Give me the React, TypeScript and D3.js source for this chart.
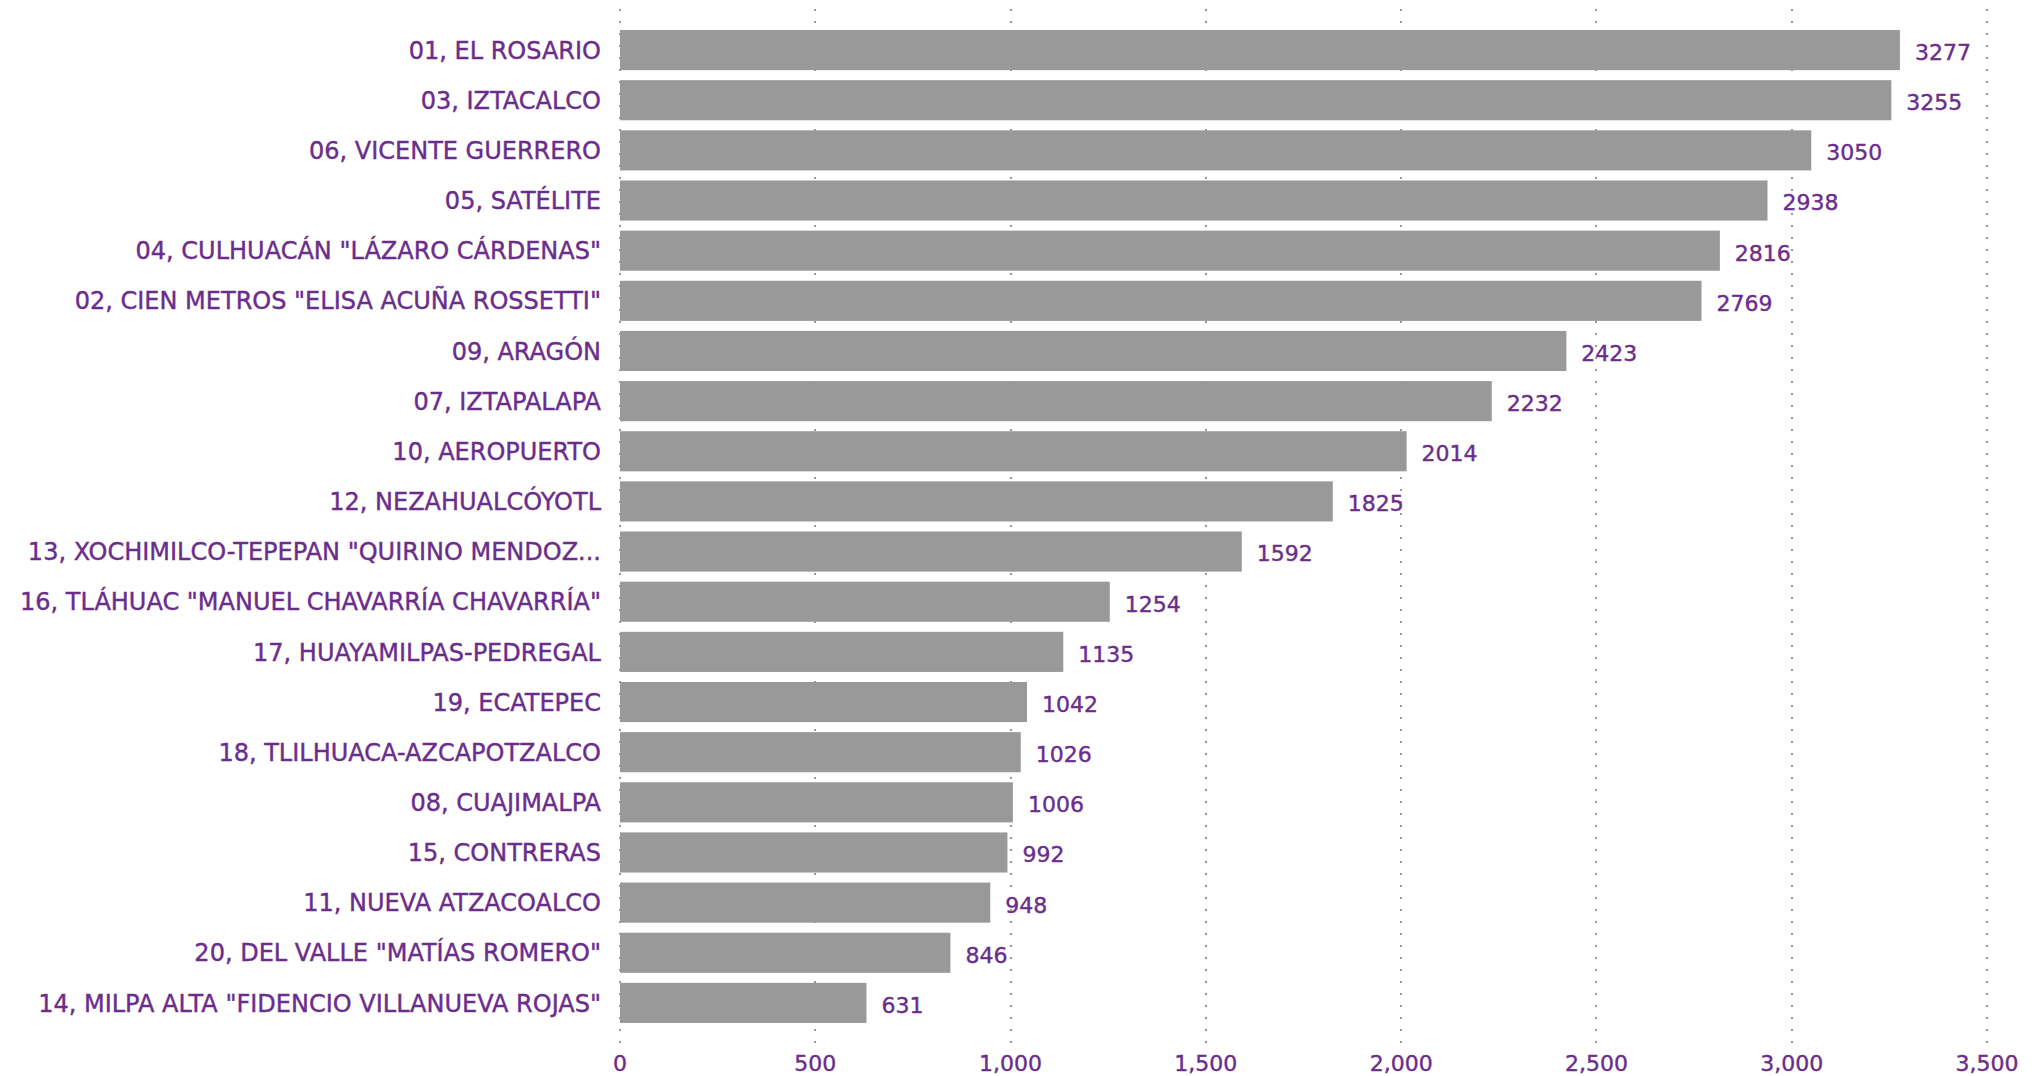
import * as d3 from "d3";
import React, { useEffect, useRef } from "react";

const categories = [
  "01, EL ROSARIO",
  "03, IZTACALCO",
  "06, VICENTE GUERRERO",
  "05, SATÉLITE",
  '04, CULHUACÁN "LÁZARO CÁRDENAS"',
  '02, CIEN METROS "ELISA ACUÑA ROSSETTI"',
  "09, ARAGÓN",
  "07, IZTAPALAPA",
  "10, AEROPUERTO",
  "12, NEZAHUALCÓYOTL",
  '13, XOCHIMILCO-TEPEPAN "QUIRINO MENDOZ...',
  '16, TLÁHUAC "MANUEL CHAVARRÍA CHAVARRÍA"',
  "17, HUAYAMILPAS-PEDREGAL",
  "19, ECATEPEC",
  "18, TLILHUACA-AZCAPOTZALCO",
  "08, CUAJIMALPA",
  "15, CONTRERAS",
  "11, NUEVA ATZACOALCO",
  '20, DEL VALLE "MATÍAS ROMERO"',
  '14, MILPA ALTA "FIDENCIO VILLANUEVA ROJAS"',
];

const values = [
  3277, 3255, 3050, 2938, 2816, 2769, 2423, 2232, 2014, 1825, 1592, 1254,
  1135, 1042, 1026, 1006, 992, 948, 846, 631,
];

const tickValues = [0, 500, 1000, 1500, 2000, 2500, 3000, 3500];

const W = 2036;
const H = 1076;
const PURPLE = "#6b2d8c";
const FONT = "'DejaVu Sans', sans-serif";

const App: React.FC = () => {
  const ref = useRef<SVGSVGElement>(null);

  useEffect(() => {
    if (!ref.current) return;
    const svg = d3.select(ref.current);
    svg.selectAll("*").remove();

    const x = d3.scaleLinear().domain([0, 3500]).range([620, 1987]);
    const y = d3
      .scaleBand<string>()
      .domain(categories)
      .range([25, 1028])
      .paddingInner(0.2)
      .paddingOuter(0.1);

    // dotted gridlines
    svg
      .append("g")
      .selectAll("line")
      .data(tickValues)
      .enter()
      .append("line")
      .attr("x1", (d) => Math.round(x(d)))
      .attr("x2", (d) => Math.round(x(d)))
      .attr("y1", 9)
      .attr("y2", 1043)
      .attr("stroke", "#999")
      .attr("stroke-width", 2)
      .attr("stroke-dasharray", "2,10");

    const rows = svg
      .append("g")
      .selectAll("g")
      .data(categories)
      .enter()
      .append("g");

    rows
      .append("rect")
      .attr("x", x(0))
      .attr("y", (d) => y(d)!)
      .attr("height", y.bandwidth())
      .attr("width", (d, i) => x(values[i]) - x(0))
      .attr("fill", "#999999");

    rows
      .append("text")
      .attr("x", 601)
      .attr("y", (d) => y(d)! + y.bandwidth() / 2)
      .attr("dy", "0.36em")
      .attr("text-anchor", "end")
      .attr("fill", PURPLE)
      .attr("stroke", PURPLE)
      .attr("stroke-width", 0.4)
      .style("font-family", FONT)
      .style("font-size", "24px")
      .text((d) => d);

    rows
      .append("text")
      .attr("x", (d, i) => x(values[i]) + 15)
      .attr("y", (d) => y(d)! + y.bandwidth() / 2 + 2)
      .attr("dy", "0.36em")
      .attr("fill", PURPLE)
      .attr("stroke", PURPLE)
      .attr("stroke-width", 0.4)
      .style("font-family", FONT)
      .style("font-size", "22px")
      .text((d, i) => values[i]);

    // x axis labels
    svg
      .append("g")
      .selectAll("text")
      .data(tickValues)
      .enter()
      .append("text")
      .attr("x", (d) => x(d))
      .attr("y", 1063)
      .attr("dy", "0.36em")
      .attr("text-anchor", "middle")
      .attr("fill", PURPLE)
      .attr("stroke", PURPLE)
      .attr("stroke-width", 0.4)
      .style("font-family", FONT)
      .style("font-size", "22px")
      .text((d) => d3.format(",")(d));
  }, []);

  return (
    <svg
      ref={ref}
      width={W}
      height={H}
      style={{ position: "absolute", left: 0, top: 0, background: "#fff" }}
    />
  );
};

export default App;
